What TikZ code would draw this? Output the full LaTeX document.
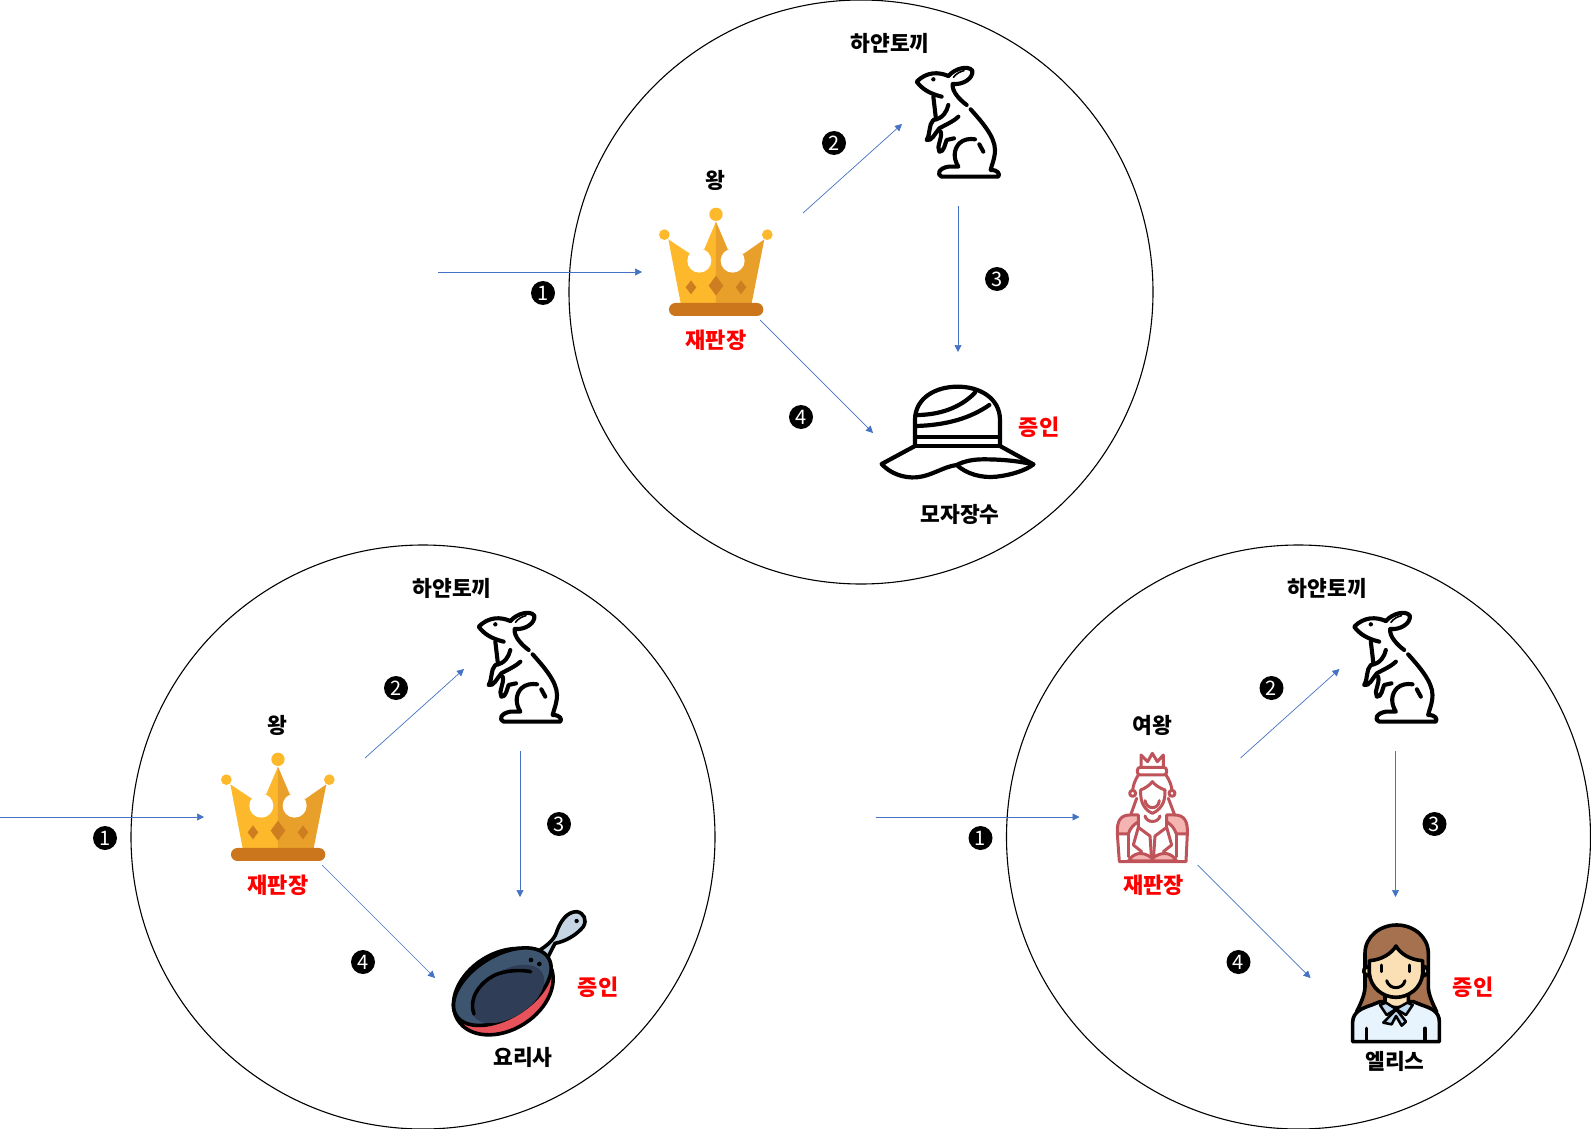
\documentclass[tikz,border=0pt]{standalone}
\usepackage{fontspec}
\setmainfont{Noto Sans CJK KR}
\usetikzlibrary{arrows.meta}
\definecolor{arrowblue}{HTML}{4472C4}
\definecolor{crownA}{HTML}{FDB92B}
\definecolor{crownB}{HTML}{E9A02A}
\definecolor{crownC}{HTML}{CB761C}
\definecolor{crownD}{HTML}{CE7E20}
\definecolor{queenline}{HTML}{BE545A}
\definecolor{queenfill}{HTML}{F4B5B2}
\definecolor{panA}{HTML}{3D556F}
\definecolor{panB}{HTML}{2F3E56}
\definecolor{panred}{HTML}{E8525A}
\definecolor{panhandle}{HTML}{C5D5E4}
\definecolor{hairc}{HTML}{A5714F}
\definecolor{skinc}{HTML}{FBE0B5}
\definecolor{shirtc}{HTML}{E8F4FD}
\definecolor{collarc}{HTML}{BFD9F0}
\tikzset{
  x=1pt,y=-1pt,
  flow/.style={arrowblue,line width=0.7pt,-{Triangle[length=7pt,width=7pt]}},
  ring/.style={draw=black,line width=1.1pt},
  badge/.style={circle,fill=black,text=white,inner sep=0pt,minimum size=24pt,font=\fontsize{20}{20}\selectfont},
  lbl/.style={inner sep=0pt,font=\fontsize{21.5}{22}\selectfont\bfseries,text=black},
  redlbl/.style={inner sep=0pt,font=\fontsize{22}{23}\selectfont\bfseries,text=red},
  ink/.style={draw=black,line width=3.6pt,line cap=round,line join=round},
  rink/.style={draw=black,line width=4.1pt,line cap=round,line join=round},
  qink/.style={draw=queenline,line width=3pt,line cap=round,line join=round},
}
% icons, drawn in 3x local coordinates
\newcommand\crownicon{%
  \fill[crownA] (85,268)--(148,310)--(193,297)--(228,215)--(228,460)--(122,460)--cycle;
  \fill[crownB] (228,215)--(263,297)--(310,312)--(373,268)--(335,460)--(228,460)--cycle;
  \fill[white] (178,332) circle [radius=36];
  \fill[white] (278,332) circle [radius=36];
  \fill[crownA] (228,193) circle [radius=20];
  \fill[crownA] (73,254) circle [radius=16];
  \fill[crownA] (382,254) circle [radius=16];
  \fill[crownD] (228,377)--(250,407)--(228,437)--(206,407)--cycle;
  \fill[crownD] (153,391)--(169,412)--(153,433)--(137,412)--cycle;
  \fill[crownD] (303,391)--(319,412)--(303,433)--(287,412)--cycle;
  \fill[crownC,rounded corners=6.4pt] (87,459) rectangle (370,498);
}
\newcommand\rabbiticon{%
  \draw[rink] (145,78) .. controls (115,65) and (80,65) .. (50,95)
     .. controls (65,115) and (85,130) .. (125,140);
  \draw[rink] (145,78) .. controls (165,55) and (205,45) .. (217,62)
     .. controls (220,85) and (190,105) .. (158,102)
     .. controls (155,125) and (180,150) .. (200,165);
  \draw[rink] (212,178) .. controls (245,215) and (285,260) .. (285,300)
     .. controls (285,325) and (275,345) .. (272,360)
     .. controls (295,360) and (300,372) .. (295,380)
     -- (125,380) .. controls (110,375) and (115,355) .. (145,350) -- (175,350)
     .. controls (160,325) and (160,300) .. (178,280)
     .. controls (190,268) and (210,265) .. (225,268);
  \draw[rink] (238,283) -- (250,305);
  \draw[rink] (100,140) -- (108,208);
  \draw[rink] (145,165) .. controls (140,185) and (130,205) .. (100,210)
     .. controls (85,225) and (92,250) .. (80,270)
     .. controls (95,275) and (105,250) .. (118,235)
     .. controls (135,225) and (160,215) .. (175,200);
  \draw[rink] (122,245) .. controls (128,265) and (108,290) .. (118,305)
     .. controls (132,308) and (135,280) .. (140,270) -- (162,265);
  \draw[rink,line width=1.6pt] (160,82) .. controls (170,70) and (180,65) .. (192,62);
  \fill[black] (100,88) circle [radius=6.5];
}
\newcommand\haticon{%
  \begin{scope}[ink,line width=4.2pt]
  \draw (165,228) -- (165,150) .. controls (165,85) and (225,50) .. (293,50)
     .. controls (360,50) and (420,85) .. (420,150) -- (420,228);
  \draw (165,200) -- (420,200);
  \draw (165,228) -- (420,228);
  \draw (170,135) .. controls (235,135) and (300,115) .. (345,68);
  \draw (170,168) .. controls (260,165) and (330,145) .. (388,105);
  \draw (165,228) -- (65,282) .. controls (90,310) and (130,325) .. (170,322)
     .. controls (215,318) and (250,290) .. (290,285)
     .. controls (320,312) and (365,325) .. (410,320)
     .. controls (455,315) and (500,300) .. (520,283) -- (420,228);
  \draw (520,283) .. controls (470,272) and (420,268) .. (370,268)
     .. controls (335,268) and (310,275) .. (290,285);
  \end{scope}
}
\newcommand\panicon{%
  \draw[ink,fill=panhandle] (300,150) .. controls (330,130) and (345,115) .. (352,90)
     .. controls (362,65) and (380,35) .. (410,35)
     .. controls (432,38) and (442,60) .. (430,80)
     .. controls (410,105) and (375,125) .. (345,130)
     -- (322,175) -- cycle;
  \fill[black] (410,63) circle [radius=6.5];
  \draw[ink,fill=panred,rotate around={32:(190,275)}] (190,275) ellipse [x radius=161,y radius=115];
  \draw[ink,fill=panA,rotate around={32:(187,260)}] (187,260) ellipse [x radius=163,y radius=92];
  \fill[panB,rotate around={32:(203,282)}] (203,282) ellipse [x radius=122,y radius=70];
  \draw[ink] (102,342) .. controls (85,300) and (115,250) .. (165,225)
     .. controls (195,212) and (240,208) .. (272,215);
  \fill[black] (273,180) circle [radius=7];
  \fill[black] (298,192) circle [radius=7];
}
\newcommand\queenicon{%
  \begin{scope}[qink]
  \draw (123,172) -- (123,135) -- (143,155) -- (157,130) -- (172,155) -- (190,135) -- (190,172);
  \draw[rounded corners=3pt] (112,172) rectangle (200,195);
  \draw (115,195) .. controls (105,210) and (100,225) .. (98,240);
  \draw (198,195) .. controls (208,210) and (214,225) .. (216,240);
  \draw (98,250) circle [radius=9];
  \draw (216,250) circle [radius=9];
  \draw (110,265) -- (92,315);
  \draw (205,265) -- (224,315);
  \draw (122,240) .. controls (135,235) and (150,225) .. (157,215)
      .. controls (165,225) and (180,235) .. (195,240);
  \draw (122,240) .. controls (120,280) and (135,300) .. (157,310)
      .. controls (180,300) and (197,280) .. (195,240);
  \draw (135,272) .. controls (140,300) and (175,300) .. (178,272);
  \draw[fill=queenfill] (52,372) .. controls (50,335) and (60,315) .. (90,315)
      -- (115,315) -- (115,335) .. controls (100,345) and (90,355) .. (85,372) -- cycle;
  \draw[fill=queenfill] (262,372) .. controls (264,335) and (254,315) .. (224,315)
      -- (200,315) -- (200,335) .. controls (214,345) and (224,355) .. (229,372) -- cycle;
  \draw (135,318) .. controls (140,340) and (175,340) .. (180,318);
  \draw (115,335) -- (115,352) -- (150,378) -- (155,450);
  \draw (200,335) -- (200,352) -- (165,378) -- (160,450);
  \draw (115,352) -- (100,405) -- (125,425);
  \draw (200,352) -- (215,405) -- (190,425);
  \draw[fill=queenfill] (85,453) .. controls (100,430) and (125,420) .. (157,445)
      .. controls (190,420) and (215,430) .. (230,453) -- cycle;
  \draw (52,372) -- (58,455) -- (258,455) -- (262,372);
  \draw (85,372) -- (85,440);
  \draw (229,372) -- (229,440);
  \end{scope}
}
\newcommand\aliceicon{%
  \begin{scope}[ink]
  \draw[fill=hairc] (105,230) -- (105,130) .. controls (105,80) and (150,45) .. (200,45)
     .. controls (250,45) and (295,80) .. (295,130) -- (295,230)
     .. controls (295,250) and (305,275) .. (320,305) -- (80,305)
     .. controls (95,275) and (105,250) .. (105,230) -- cycle;
  \draw[fill=shirtc] (68,395) -- (68,335) .. controls (70,305) and (95,295) .. (125,285)
     -- (150,275) -- (250,275) -- (275,285) .. controls (305,295) and (328,305) .. (328,335)
     -- (328,395) -- cycle;
  \draw[fill=skinc] (165,250) -- (165,278) .. controls (180,298) and (220,298) .. (235,278) -- (235,250) -- cycle;
  \draw[fill=skinc] (112,170) .. controls (95,175) and (98,195) .. (118,198) -- (118,170) -- cycle;
  \draw[fill=skinc] (284,170) .. controls (300,175) and (298,195) .. (280,198) -- (280,170) -- cycle;
  \draw[fill=skinc] (118,152) .. controls (155,150) and (185,130) .. (198,108)
     .. controls (210,130) and (240,150) .. (278,152) -- (278,190)
     .. controls (275,235) and (235,262) .. (198,262)
     .. controls (160,262) and (122,235) .. (118,190) -- cycle;
  \draw[line width=3pt] (155,165) -- (155,185);
  \draw[line width=3pt] (238,165) -- (238,185);
  \draw[line width=3pt] (170,212) .. controls (178,240) and (218,240) .. (225,212);
  \draw[fill=collarc,line width=2.6pt] (150,285) -- (168,278) -- (198,297) -- (170,315) -- cycle;
  \draw[fill=collarc,line width=2.6pt] (248,285) -- (232,278) -- (198,297) -- (228,315) -- cycle;
  \draw[fill=collarc,line width=2.6pt] (195,302) -- (160,338) -- (185,343) -- (198,318) -- (215,347) -- (228,335) -- (202,302) -- cycle;
  \draw (110,355) -- (110,393);
  \draw (285,355) -- (285,393);
  \end{scope}
}
% parts shared by the three trials; #1 name prefix, #2 judge's title, #3 its position
\newcommand\trial[3]{%
  \draw[ring] (861,292) circle [radius=292];
  \node[lbl] (#1rabbitlabel) at (890,43) {하얀토끼};
  \node[lbl] (#1title) at (#3) {#2};
  \node[redlbl] (#1judge) at (716,340) {재판장};
  \coordinate (#1in) at (438,272);
  \coordinate (#1inend) at (642,272);
  \coordinate (#1kingout) at (803,213);
  \coordinate (#1rabbitin) at (902,124);
  \coordinate (#1rabbitout) at (958,206);
  \coordinate (#1witin) at (958,352);
  \coordinate (#1kingdown) at (760,320);
  \coordinate (#1witside) at (873,433);
  \draw[flow] (#1in) -- (#1inend);
  \draw[flow] (#1kingout) -- (#1rabbitin);
  \draw[flow] (#1rabbitout) -- (#1witin);
  \draw[flow] (#1kingdown) -- (#1witside);
  \node[badge] (#1one) at (543,293) {1};
  \node[badge] (#1two) at (834,143) {2};
  \node[badge] (#1three) at (997,279) {3};
  \node[badge] (#1four) at (801,417) {4};
  \begin{scope}[shift={(900,50)},scale=0.3333] \rabbiticon \end{scope}
}
\begin{document}
\begin{tikzpicture}
\useasboundingbox (0,0) rectangle (1591,1129);
% top trial
\begin{scope}
  \trial{a}{왕}{715,180}
  \begin{scope}[shift={(640,150)},scale=0.3333] \crownicon \end{scope}
  \begin{scope}[shift={(860,370)},scale=0.3333] \haticon \end{scope}
  \node[redlbl] (awitness) at (1039,427) {증인};
  \node[lbl] (ahatter) at (960,514) {모자장수};
\end{scope}
% left trial
\begin{scope}[shift={(-438,545)}]
  \trial{b}{왕}{715,180}
  \begin{scope}[shift={(640,150)},scale=0.3333] \crownicon \end{scope}
  \begin{scope}[shift={(878,355)},scale=0.3333] \panicon \end{scope}
  \node[redlbl] (bwitness) at (1036,442) {증인};
  \node[lbl] (bcook) at (961,512.5) {요리사};
\end{scope}
% right trial
\begin{scope}[shift={(437.5,545)}]
  \trial{c}{여왕}{715,180}
  \begin{scope}[shift={(662.5,165)},scale=0.3333] \queenicon \end{scope}
  \begin{scope}[shift={(892.5,365)},scale=0.3333] \aliceicon \end{scope}
  \node[redlbl] (cwitness) at (1035.5,442) {증인};
  \node[lbl] (calice) at (957.5,516) {엘리스};
\end{scope}
\end{tikzpicture}
\end{document}
